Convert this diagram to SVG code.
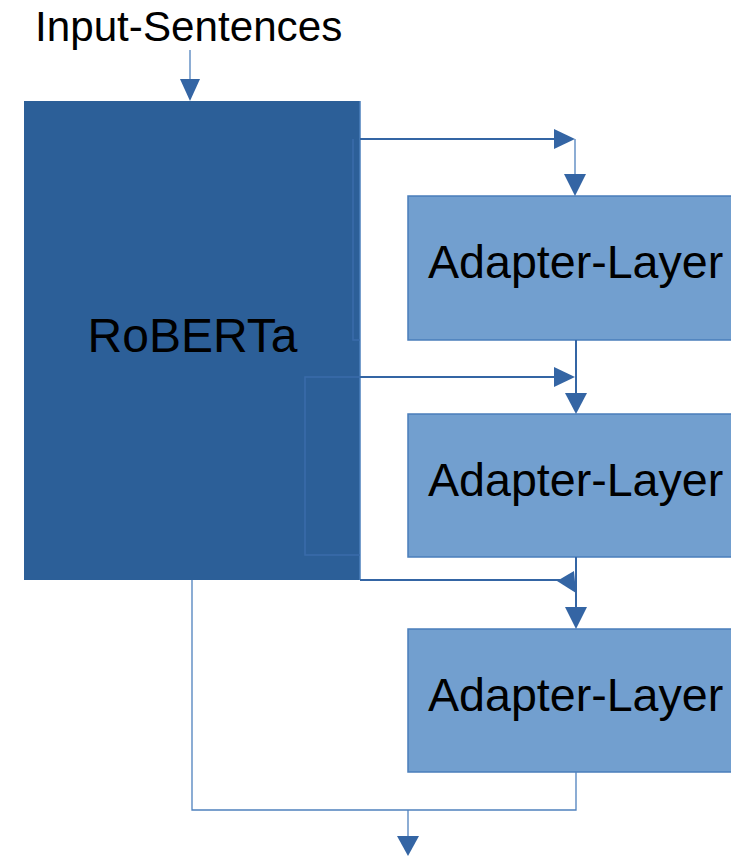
<svg xmlns="http://www.w3.org/2000/svg" width="731" height="856" viewBox="0 0 731 856">
<style>
.txt{font-family:"Liberation Sans",Arial,sans-serif;fill:#000}
.adapter{fill:#729fcf;stroke:#4a7ebb;stroke-width:1.5}
.conn{fill:none;stroke:#3465a4;stroke-width:2}
.thin{fill:none;stroke:#4f81bd;stroke-width:1.3}
.head{fill:#3465a4}
.inner{fill:none;stroke:#3a6cab;stroke-width:1.5}
</style>
<rect width="731" height="856" fill="#fff"/>
<text class="txt" x="35" y="41" font-size="42.2">Input-Sentences</text>
<g id="roberta">
<rect x="24" y="101" width="336" height="479" fill="#2c5f98"/>
<line x1="360" y1="101" x2="360" y2="580" stroke="#4a7ebb" stroke-width="1.5"/>
<polyline class="inner" points="353,139 353,340 360,340"/>
<polyline class="inner" points="360,377 305,377 305,555 360,555"/>
<text class="txt" x="192.5" y="352" font-size="48" text-anchor="middle">RoBERTa</text>
</g>
<g id="adapter1">
<rect class="adapter" x="408" y="196" width="330" height="144"/>
<text class="txt" x="428" y="278" font-size="46.6">Adapter-Layer</text>
</g>
<g id="adapter2">
<rect class="adapter" x="408" y="414" width="330" height="143"/>
<text class="txt" x="428" y="496" font-size="46.6">Adapter-Layer</text>
</g>
<g id="adapter3">
<rect class="adapter" x="408" y="629" width="330" height="143"/>
<text class="txt" x="428" y="711" font-size="46.6">Adapter-Layer</text>
</g>
<g id="connectors">
<line class="thin" x1="190" y1="50" x2="190" y2="90"/>
<polygon class="head" points="180,79 200,79 190,101"/>
<line class="conn" x1="360" y1="139" x2="560" y2="139"/>
<polygon class="head" points="554,129 554,149 575,139"/>
<line class="thin" x1="575" y1="139" x2="575" y2="180"/>
<polygon class="head" points="564,174 586,174 575,196"/>
<line class="conn" x1="360" y1="377" x2="560" y2="377"/>
<polygon class="head" points="554,367 554,387 575,377"/>
<line class="conn" x1="576" y1="340" x2="576" y2="400"/>
<polygon class="head" points="565,393 587,393 576,414"/>
<line class="conn" x1="360" y1="580" x2="560" y2="580"/>
<polygon class="head" points="557,581 574,571 576,593"/>
<line class="conn" x1="576" y1="557" x2="576" y2="615"/>
<polygon class="head" points="565,607 587,607 576,629"/>
<polyline class="thin" points="192,580 192,810 576,810 576,772"/>
<line class="thin" x1="408" y1="810" x2="408" y2="840"/>
<polygon class="head" points="397,836 419,836 408,856"/>
</g>
</svg>
